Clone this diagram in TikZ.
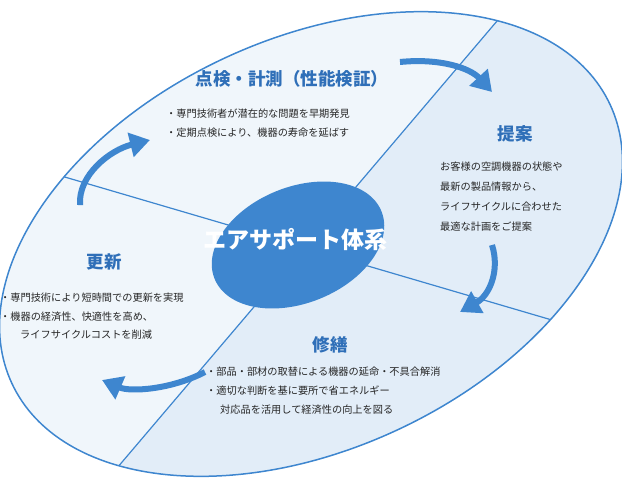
\documentclass[tikz,border=0pt]{standalone}
\usepackage{fontspec}
\setmainfont{Noto Sans CJK JP}
\usetikzlibrary{arrows.meta}
\definecolor{bl}{HTML}{3E86CF}
\definecolor{lb}{HTML}{E2EDF8}
\definecolor{tt}{HTML}{2F6FB8}
\tikzset{
 body/.style={anchor=west,font=\fontsize{10.2}{12}\selectfont,text=black!85,inner sep=0},
 head/.style={font=\fontsize{17.5}{20}\selectfont\bfseries,text=tt,inner sep=0},
 swoosh/.style={bl,line width=6,-{Triangle[length=20,width=24]}}
}
\begin{document}
\begin{tikzpicture}[x=1pt,y=-1pt]
\useasboundingbox (0,0) rectangle (622,480);
\fill[lb] (311,244) ellipse[x radius=330,y radius=205,rotate=25];
\begin{scope}
\clip (311,244) ellipse[x radius=330,y radius=205,rotate=25];
\fill[white,opacity=0.5] (100,488) -- (520,-6) -- (0,-6) -- (0,488) -- cycle;
\draw[bl,line width=1.2] (100,488) -- (520,-6);
\draw[bl,line width=1.2] (0,158) -- (620,340);
\end{scope}
\draw[bl,line width=1.5] (311,244) ellipse[x radius=330,y radius=205,rotate=25];
\fill[bl] (298,245) ellipse[x radius=90,y radius=58,rotate=22];
\node[text=white,font=\fontsize{23}{26}\selectfont\bfseries] (core) at (295,240) {エアサポート体系};
% arrows
\coordinate (a1s) at (400,62); \coordinate (a1e) at (492,92);
\draw[swoosh] (a1s) .. controls (440,58) and (470,68) .. (a1e);
\coordinate (a2s) at (492,245); \coordinate (a2e) at (460,312);
\draw[swoosh] (a2s) .. controls (500,270) and (490,295) .. (a2e);
\coordinate (a3s) at (205,372); \coordinate (a3e) at (102,380);
\draw[swoosh] (a3s) .. controls (170,390) and (130,392) .. (a3e);
\coordinate (a4s) at (80,205); \coordinate (a4e) at (150,140);
\draw[swoosh] (a4s) .. controls (78,175) and (110,150) .. (a4e);
% texts
\node[head] (h1) at (292,79) {点検・計測（性能検証）};
\node[body] (t11) at (166,114) {・専門技術者が潜在的な問題を早期発見};
\node[body] (t12) at (166,133) {・定期点検により、機器の寿命を延ばす};
\node[head] (h2) at (515,134) {提案};
\node[body] (t21) at (440,167) {お客様の空調機器の状態や};
\node[body] (t22) at (440,187) {最新の製品情報から、};
\node[body] (t23) at (440,207) {ライフサイクルに合わせた};
\node[body] (t24) at (440,227) {最適な計画をご提案};
\node[head] (h3) at (104,262) {更新};
\node[body] (t31) at (0,298) {・専門技術により短時間での更新を実現};
\node[body] (t32) at (0,317) {・機器の経済性、快適性を高め、};
\node[body] (t33) at (20,335) {ライフサイクルコストを削減};
\node[head] (h4) at (330,345) {修繕};
\node[body] (t41) at (206,372) {・部品・部材の取替による機器の延命・不具合解消};
\node[body] (t42) at (206,391) {・適切な判断を基に要所で省エネルギー};
\node[body] (t43) at (220,410) {対応品を活用して経済性の向上を図る};
\end{tikzpicture}
\end{document}
